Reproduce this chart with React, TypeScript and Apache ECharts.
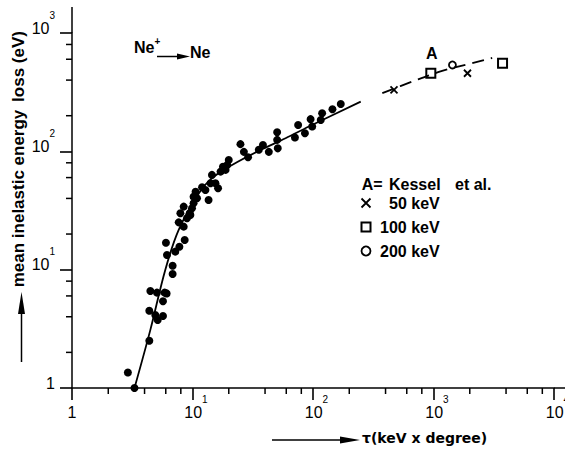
import React, { useEffect, useRef } from 'react';
import * as echarts from 'echarts';

// measured points (tau in keV x degree, mean inelastic energy loss in eV)
const measured: [number, number][] = [
  [2.91, 1.35], [3.3, 1.0], [4.38, 2.51], [4.47, 6.6], [4.38, 4.5], [5.07, 6.4], [5.14, 3.76],
  [4.91, 4.14], [5.69, 4.06], [5.69, 5.41], [5.87, 6.4], [6.1, 6.3], [6.02, 16.9], [6.14, 13.3],
  [6.84, 10.8], [6.84, 9.2], [7.2, 14.2], [7.78, 15.6], [8.61, 17.8], [7.68, 25.1], [7.93, 30],
  [8.45, 34.1], [8.45, 23.1], [9.0, 27.2], [9.48, 30], [9.6, 29], [9.91, 33], [10.2, 41.4],
  [10.6, 45.6], [10.2, 36.4], [10.9, 40.1], [12.0, 49.7], [13.6, 38.8], [12.8, 47.2], [14.1, 53.7],
  [14.5, 63.2], [15.5, 53.8], [16.3, 48.8], [17.1, 67.4], [17.9, 74.2], [18.8, 69.7], [19.4, 76.7],
  [20, 84.6], [25, 115], [26.7, 99], [28.9, 89.2], [35.5, 103], [38.4, 113], [43, 99],
  [50.4, 145], [50.4, 125], [51, 106], [70.8, 131], [75.3, 167], [85.7, 142], [95.5, 187],
  [98.5, 162], [116, 184], [119, 210], [145, 227], [170, 251],
];

// fitted curve through the measurements (solid)
const fitCurve: [number, number][] = [
  [3.3, 1], [4.47, 3.1], [5.95, 10], [7.68, 21.7], [11.3, 44.2], [14.5, 59.3], [21.3, 76.7],
  [35.5, 101], [59.2, 129], [92.5, 162], [249, 263],
];

// Kessel et al. curve (dashed)
const kesselCurve: [number, number][] = [
  [376, 310], [664, 388], [1180, 478], [2094, 556], [3070, 616],
];

const kessel50: [number, number][] = [[470, 330], [1914, 457]];
const kessel100: [number, number][] = [[950, 457], [3741, 556]];
const kessel200: [number, number][] = [[1436, 537]];

const xDecades = [1, 10, 100, 1000];
const yDecades = [1, 10, 100];
const minorSteps = [2, 4, 6, 8];

const FONT = 'Liberation Sans';
const CROSS = 'path://M0,0L10,10M10,0L0,10';
const SQUARE = 'path://M0,0H10V10H0Z';

export default function App() {
  const ref = useRef<HTMLDivElement>(null);

  useEffect(() => {
    const chart = echarts.init(ref.current!, null, { renderer: 'svg' });

    const tickLabel = (v: number) => {
      const k = Math.round(Math.log10(v));
      return k === 0 ? '{o|1}' : `{n|10}{s|${k}}`;
    };

    const richBase = {
      o: { fontFamily: FONT, fontSize: 16, lineHeight: 36, color: '#000' },
      s: { fontFamily: FONT, fontSize: 10, lineHeight: 10, verticalAlign: 'top', color: '#000' },
    };

    const txt = (text: string, x: number, y: number, font: string, align = 'left') => ({
      type: 'text', x, y,
      style: { text, font, fill: '#000', align, verticalAlign: 'middle' },
    });

    const baseGraphics: any[] = [
      { type: 'line', shape: { x1: 72, y1: 7, x2: 72, y2: 33 }, style: { stroke: '#000', lineWidth: 1.5 } },
      { type: 'line', shape: { x1: 554, y1: 388, x2: 565, y2: 388 }, style: { stroke: '#000', lineWidth: 1.5 } },
      { ...txt('loss (eV)', 18, 66.5, `bold 17px ${FONT}`, 'center'), rotation: Math.PI / 2 },
      { ...txt('mean inelastic energy', 18, 198.5, `bold 17px ${FONT}`, 'center'), rotation: Math.PI / 2 },
      { type: 'line', shape: { x1: 21.5, y1: 362, x2: 21.5, y2: 305 }, style: { stroke: '#000', lineWidth: 1.5 } },
      { type: 'polygon', shape: { points: [[21.5, 292], [18, 314], [25, 314]] }, style: { fill: '#000' } },
      { type: 'line', shape: { x1: 272, y1: 440, x2: 345, y2: 440 }, style: { stroke: '#000', lineWidth: 1.5 } },
      { type: 'polygon', shape: { points: [[360, 440], [340, 436.5], [340, 443.5]] }, style: { fill: '#000' } },
      txt('τ(keV x degree)', 362, 438, 'bold 14px DejaVu Sans'),
      {
        type: 'text', x: 134, y: 47,
        style: {
          text: '{n|Ne}{s|+}', fill: '#000', align: 'left', verticalAlign: 'middle',
          rich: {
            n: { font: `bold 16px ${FONT}`, lineHeight: 22, fill: '#000' },
            s: { font: `bold 10px ${FONT}`, lineHeight: 10, verticalAlign: 'top', fill: '#000' },
          },
        },
      },
      { type: 'line', shape: { x1: 157, y1: 56.5, x2: 180, y2: 56.5 }, style: { stroke: '#000', lineWidth: 1.5 } },
      { type: 'polygon', shape: { points: [[190, 56.5], [177, 53.5], [177, 59.5]] }, style: { fill: '#000' } },
      txt('Ne', 190, 52, `bold 16px ${FONT}`),
      txt('A', 431.7, 53, `bold 16px ${FONT}`, 'center'),
      txt('A=', 361.7, 184, `bold 16px ${FONT}`),
      txt('Kessel', 389, 184, `bold 16px ${FONT}`),
      txt('et al.', 455, 184, `bold 16px ${FONT}`),
    ];

    const option: any = {
      animation: false,
      textStyle: { fontFamily: FONT },
      grid: { left: 72, right: 11, top: 33, bottom: 67, containLabel: false, outerBoundsMode: 'none' },
      xAxis: {
        type: 'log',
        min: 1,
        max: 10000,
        axisLine: { show: true, lineStyle: { color: '#000', width: 1.5 } },
        axisTick: { show: true, length: 12, lineStyle: { color: '#000', width: 1.6 } },
        splitLine: { show: false },
        axisLabel: {
          margin: 6,
          color: '#000',
          formatter: tickLabel,
          hideOverlap: false,
          rich: {
            ...richBase,
            n: { fontFamily: FONT, fontSize: 16, lineHeight: 36, padding: [0, 0, 0, 7], color: '#000' },
          },
        },
      },
      yAxis: {
        type: 'log',
        min: 1,
        max: 1000,
        axisLine: { show: true, lineStyle: { color: '#000', width: 1.5 } },
        axisTick: { show: true, length: 12, lineStyle: { color: '#000', width: 1.6 } },
        splitLine: { show: false },
        axisLabel: {
          margin: 17,
          color: '#000',
          padding: [0, 0, 10, 0],
          formatter: tickLabel,
          rich: {
            ...richBase,
            n: { fontFamily: FONT, fontSize: 16, lineHeight: 36, color: '#000' },
          },
        },
      },
      legend: {
        orient: 'vertical',
        left: 359,
        top: 195,
        padding: 0,
        itemWidth: 18,
        itemHeight: 9,
        itemGap: 8,
        selectedMode: false,
        textStyle: {
          fontFamily: FONT,
          fontWeight: 'bold',
          fontSize: 16,
          color: '#000',
          rich: {
            p: { fontFamily: FONT, fontWeight: 'bold', fontSize: 16, color: '#000', padding: [0, 0, 0, 9] },
          },
        },
        formatter: (name: string) => (name === '50 keV' ? `{p|${name}}` : name),
        data: [
          { name: '50 keV', icon: CROSS, itemStyle: { color: 'none', borderColor: '#000', borderWidth: 1.8 } },
          { name: '100 keV', icon: SQUARE, itemStyle: { color: '#fff', borderColor: '#000', borderWidth: 2 } },
          { name: '200 keV', icon: 'circle', itemStyle: { color: '#fff', borderColor: '#000', borderWidth: 1.8 } },
        ],
      },
      series: [
        { name: 'fit', type: 'line', data: fitCurve, smooth: 0.35, symbol: 'none', lineStyle: { color: '#000', width: 1.8 }, silent: true },
        { name: 'Kessel curve', type: 'line', data: kesselCurve, smooth: 0.35, symbol: 'none', lineStyle: { color: '#000', width: 1.8, type: [12, 7] }, silent: true },
        { name: 'measured', type: 'scatter', data: measured, symbol: 'circle', symbolSize: 8, itemStyle: { color: '#000', opacity: 1 }, silent: true },
        { name: '50 keV', type: 'scatter', data: kessel50, symbol: CROSS, symbolSize: 7, itemStyle: { color: 'none', borderColor: '#000', borderWidth: 1.8, opacity: 1 }, silent: true },
        { name: '100 keV', type: 'scatter', data: kessel100, symbol: 'rect', symbolSize: 9, itemStyle: { color: '#fff', borderColor: '#000', borderWidth: 2, opacity: 1 }, silent: true },
        { name: '200 keV', type: 'scatter', data: kessel200, symbol: 'circle', symbolSize: 7, itemStyle: { color: '#fff', borderColor: '#000', borderWidth: 1.8, opacity: 1 }, silent: true },
      ],
      graphic: baseGraphics,
    };

    chart.setOption(option);

    // minor ticks at 2, 4, 6, 8 of every decade, positioned through the axes' own scales
    const minorGraphics: any[] = [];
    xDecades.forEach((d) =>
      minorSteps.forEach((m) => {
        const p = chart.convertToPixel({ gridIndex: 0 }, [d * m, 1]) as number[];
        if (p && isFinite(p[0]) && isFinite(p[1])) {
          minorGraphics.push({
            type: 'line',
            shape: { x1: p[0], y1: p[1], x2: p[0], y2: p[1] + 6 },
            style: { stroke: '#000', lineWidth: 1.5 },
          });
        }
      })
    );
    yDecades.forEach((d) =>
      minorSteps.forEach((m) => {
        const p = chart.convertToPixel({ gridIndex: 0 }, [1, d * m]) as number[];
        if (p && isFinite(p[0]) && isFinite(p[1])) {
          minorGraphics.push({
            type: 'line',
            shape: { x1: p[0] - 6, y1: p[1], x2: p[0], y2: p[1] },
            style: { stroke: '#000', lineWidth: 1.5 },
          });
        }
      })
    );
    chart.setOption({ graphic: [...baseGraphics, ...minorGraphics] });

    return () => chart.dispose();
  }, []);

  return <div ref={ref} style={{ position: 'fixed', left: 0, top: 0, width: 565, height: 455, background: '#fff' }} />;
}
